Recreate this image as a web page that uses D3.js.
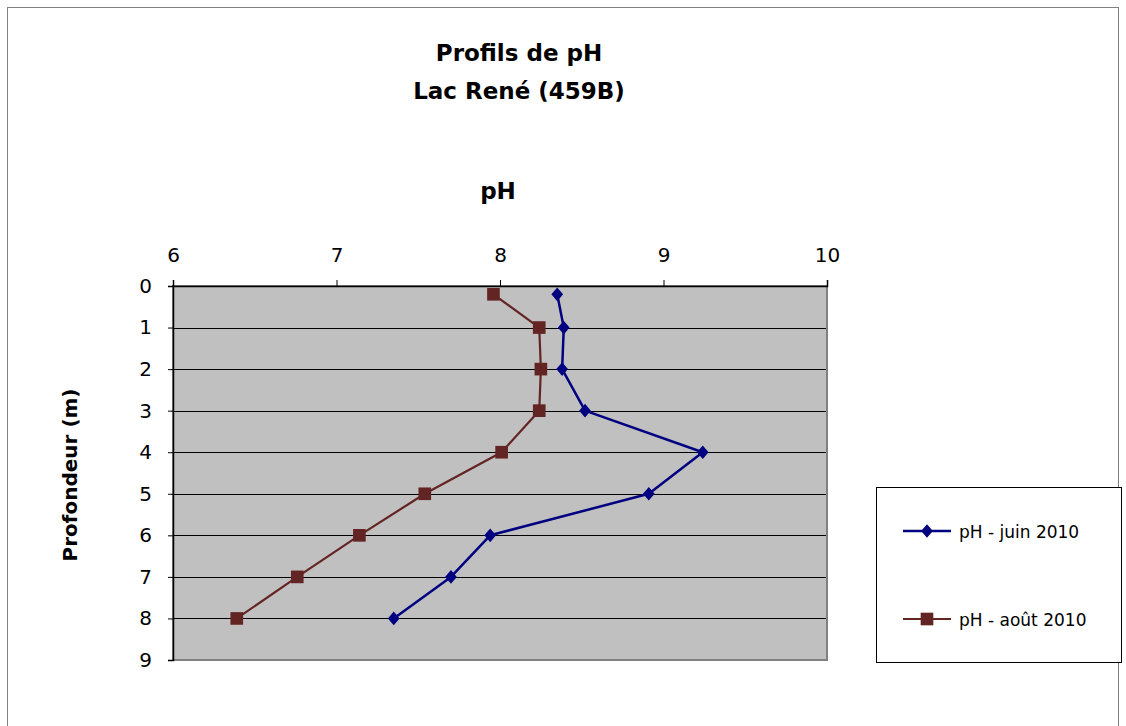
<!DOCTYPE html>
<html>
<head>
<meta charset="utf-8">
<script src="https://cdn.jsdelivr.net/npm/d3@7/dist/d3.min.js"></script>
<style>
  html, body { margin: 0; padding: 0; background: #fff; }
  svg { display: block; }
  text { font-family: "Century Gothic", "URW Gothic", "DejaVu Sans", sans-serif; fill: #000; }
</style>
</head>
<body>
<svg id="chart" width="1126" height="726"></svg>
<script>
// Depth (m) at which each sample was taken
const depths = [0.2, 1, 2, 3, 4, 5, 6, 7, 8];
// pH readings for each campaign
const phJuin = [8.35, 8.39, 8.38, 8.52, 9.24, 8.91, 7.94, 7.70, 7.35];
const phAout = [7.96, 8.24, 8.25, 8.24, 8.01, 7.54, 7.14, 6.76, 6.39];
const seriesNames = ["pH - juin 2010", "pH - août 2010"];
const phTicks = [6, 7, 8, 9, 10];
const depthTicks = [0, 1, 2, 3, 4, 5, 6, 7, 8, 9];
const titleLines = ["Profils de pH", "Lac René (459B)"];

const svg = d3.select("#chart");
const plot = { left: 173, right: 827, top: 286, bottom: 660 };

// Outer chart frame
svg.append("rect")
  .attr("x", 7.5).attr("y", 7.5)
  .attr("width", 1111).attr("height", 740)
  .attr("fill", "#fff").attr("stroke", "#808080").attr("stroke-width", 1);

const x = d3.scaleLinear().domain([6, 10]).range([plot.left, plot.right]);
const y = d3.scaleLinear().domain([0, 9]).range([plot.top, plot.bottom]);

// Plot background
svg.append("rect")
  .attr("x", plot.left).attr("y", plot.top)
  .attr("width", plot.right - plot.left).attr("height", plot.bottom - plot.top)
  .attr("fill", "#c0c0c0");

// Horizontal gridlines
svg.append("g").selectAll("line")
  .data(depthTicks.slice(1, -1))
  .join("line")
  .attr("x1", plot.left).attr("x2", plot.right)
  .attr("y1", d => Math.round(y(d)) + 0.5).attr("y2", d => Math.round(y(d)) + 0.5)
  .attr("stroke", "#000").attr("stroke-width", 1.2);

// Plot border
svg.append("rect")
  .attr("x", plot.left).attr("y", plot.top)
  .attr("width", plot.right - plot.left).attr("height", plot.bottom - plot.top)
  .attr("fill", "none").attr("stroke", "#808080").attr("stroke-width", 2);

// pH axis on top
const xAxis = svg.append("g")
  .attr("transform", `translate(0,${plot.top})`)
  .call(d3.axisTop(x).tickValues(phTicks).tickSize(6).tickPadding(18).tickFormat(d3.format("d")));
xAxis.select(".domain").attr("stroke", "#000").attr("stroke-width", 1.5);
xAxis.selectAll(".tick line").attr("stroke", "#000");
xAxis.selectAll("text").attr("font-size", 20).attr("fill", "#000");

// Depth axis on the left
const yAxis = svg.append("g")
  .attr("transform", `translate(${plot.left},0)`)
  .call(d3.axisLeft(y).tickValues(depthTicks).tickSize(5).tickPadding(16).tickFormat(d3.format("d")));
yAxis.select(".domain").attr("stroke", "#000").attr("stroke-width", 1.5);
yAxis.selectAll(".tick line").attr("stroke", "#000");
yAxis.selectAll("text").attr("font-size", 20).attr("fill", "#000");

// Titles
svg.append("g").selectAll("text")
  .data(titleLines)
  .join("text")
  .attr("x", 519).attr("y", (d, i) => 61 + i * 38)
  .attr("text-anchor", "middle")
  .attr("font-size", 23).attr("font-weight", "bold")
  .text(d => d);

svg.append("text")
  .attr("x", 498).attr("y", 199)
  .attr("text-anchor", "middle")
  .attr("font-size", 23).attr("font-weight", "bold")
  .text("pH");

svg.append("text")
  .attr("transform", `translate(77,475) rotate(-90)`)
  .attr("text-anchor", "middle")
  .attr("font-size", 20).attr("font-weight", "bold")
  .text("Profondeur (m)");

// Series: diamonds are squares turned 45°
const series = [
  { name: seriesNames[0], values: phJuin, color: "#000080", width: 2.5, symbol: d3.symbolSquare, size: 85, tf: "scale(0.9,1.05) rotate(45)" },
  { name: seriesNames[1], values: phAout, color: "#632523", width: 2.2, symbol: d3.symbolSquare, size: 160, tf: "" }
];

const line = d3.line().x(d => x(d.ph)).y(d => y(d.depth));

series.forEach(s => {
  const pts = depths.map((d, i) => ({ depth: d, ph: s.values[i] }));
  svg.append("path")
    .datum(pts)
    .attr("d", line)
    .attr("fill", "none")
    .attr("stroke", s.color)
    .attr("stroke-width", s.width)
    .attr("stroke-linejoin", "round");
  svg.append("g").selectAll("path")
    .data(pts)
    .join("path")
    .attr("transform", d => `translate(${x(d.ph)},${y(d.depth)}) ${s.tf}`)
    .attr("d", d3.symbol().type(s.symbol).size(s.size))
    .attr("fill", s.color);
});

// Legend
const legend = svg.append("g");
legend.append("rect")
  .attr("x", 876.5).attr("y", 487.5)
  .attr("width", 245).attr("height", 175)
  .attr("fill", "#fff").attr("stroke", "#000").attr("stroke-width", 1);

series.forEach((s, i) => {
  const ly = 531 + i * 88;
  legend.append("line")
    .attr("x1", 903).attr("x2", 951).attr("y1", ly).attr("y2", ly)
    .attr("stroke", s.color).attr("stroke-width", s.width);
  legend.append("path")
    .attr("transform", `translate(927,${ly}) ${s.tf}`)
    .attr("d", d3.symbol().type(s.symbol).size(s.size))
    .attr("fill", s.color);
  legend.append("text")
    .attr("x", 959).attr("y", ly + 7)
    .attr("font-size", 17)
    .text(s.name);
});
</script>
</body>
</html>
